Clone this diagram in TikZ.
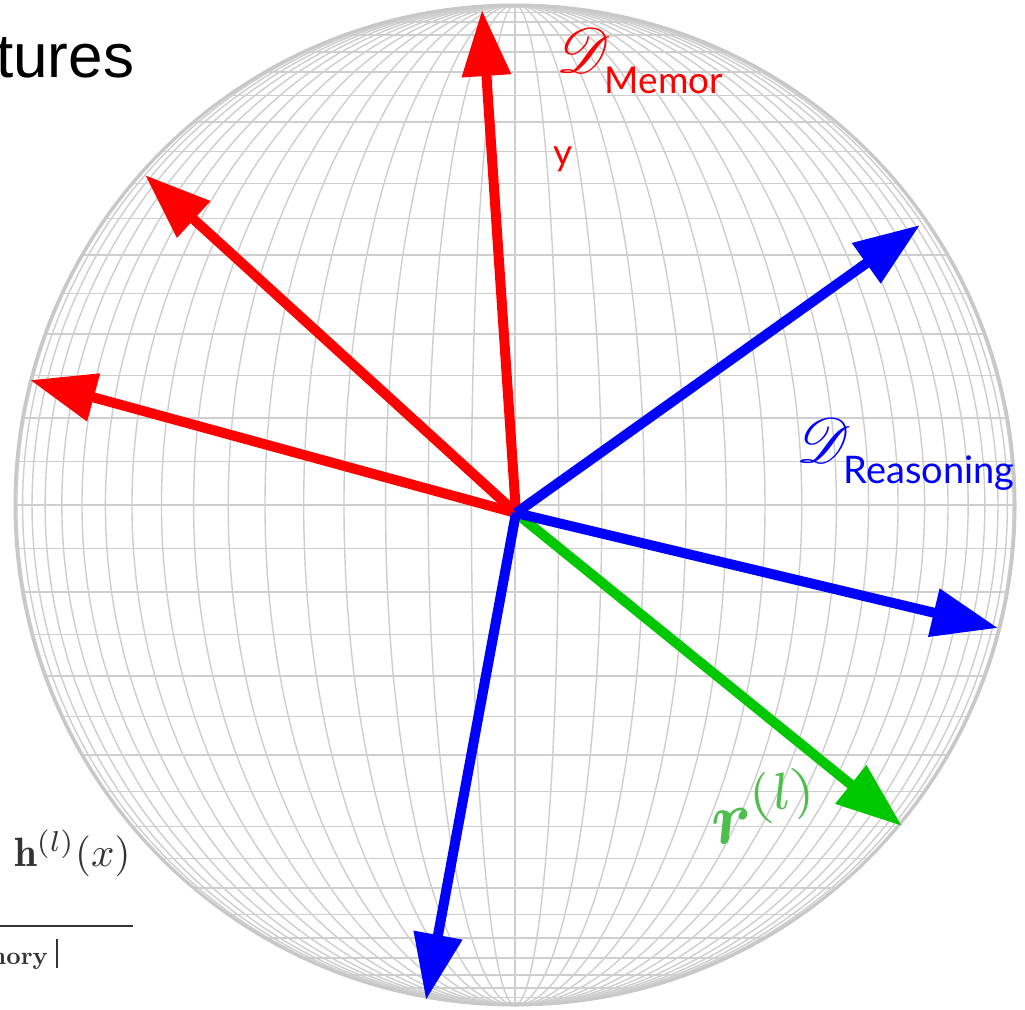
\documentclass[tikz,border=0pt]{standalone}
\usepackage{amsmath}
\usepackage{mathrsfs}
\usepackage{graphicx}
\usepackage{fontspec}
\newfontfamily\latofont{Lato}
\newfontfamily\arialfont{Liberation Sans}
\usetikzlibrary{arrows.meta}
\newcommand{\Radius}{500}
\newcommand{\CenX}{515}
\newcommand{\CenY}{505}
\newcommand{\Shaft}{10pt}
\newcommand{\Step}{5}
\definecolor{memred}{HTML}{FF0000}
\definecolor{reasonblue}{HTML}{0000FF}
\definecolor{residgreen}{HTML}{00C800}
\definecolor{residlabel}{HTML}{4CBF4C}
\definecolor{gridgray}{HTML}{CECECE}
\definecolor{rimgray}{HTML}{C8C8C8}
\definecolor{paperink}{HTML}{333333}

\begin{document}
\begin{tikzpicture}[x=1pt,y=-1pt, line join=round,
  gridline/.style={gridgray,line width=1.4pt},
  gridrim/.style={rimgray,line width=3pt},
  vec/.style={line width=\Shaft,-{Triangle[length=66pt,width=47pt]}}]

  \useasboundingbox (0,0) rectangle (1025,1009);
  \fill[white] (0,0) rectangle (1025,1009);

  % ---- sphere, seen side on ----------------------------------------------
  \coordinate (C) at (\CenX,\CenY);
  \foreach \a in {\Step,10,...,85} {
    \pgfmathsetmacro\dy{\Radius*sin(\a)}
    \pgfmathsetmacro\dx{\Radius*cos(\a)}
    % a pair of meridians is one ellipse
    \draw[gridline] (C) ellipse [x radius=\dy, y radius=\Radius];
    \draw[gridline] (\CenX-\dx,\CenY-\dy) -- (\CenX+\dx,\CenY-\dy);
    \draw[gridline] (\CenX-\dx,\CenY+\dy) -- (\CenX+\dx,\CenY+\dy);
  }
  \draw[gridline] (\CenX,\CenY-\Radius) -- (\CenX,\CenY+\Radius);
  \draw[gridline] (\CenX-\Radius,\CenY) -- (\CenX+\Radius,\CenY);
  \draw[gridrim] (C) circle (\Radius);

  % ---- directions ---------------------------------------------------------
  \coordinate (O) at (516,513);
  \coordinate (memA) at (482,10);
  \coordinate (memB) at (145,175);
  \coordinate (memC) at (30,380);
  \coordinate (reaA) at (920,225);
  \coordinate (reaB) at (998,628);
  \coordinate (reaC) at (426,1000);
  \coordinate (resid) at (902,826);

  \foreach \t in {memA,memB,memC} {
    \draw[vec,memred] (O) -- (\t);
  }
  \draw[vec,residgreen] (O) -- (resid);
  \foreach \t in {reaA,reaB,reaC} {
    \draw[vec,reasonblue] (O) -- (\t);
  }

  % ---- labels -------------------------------------------------------------
  \node[anchor=base west,inner sep=0,memred] (memlabel) at (556,72)
    {\scalebox{6.3}{$\mathscr{D}$}\kern-6pt\raisebox{-21pt}{\latofont\fontsize{37}{37}\selectfont Memor}};
  \node[anchor=base west,inner sep=0,memred] (ylabel) at (553,165)
    {\latofont\fontsize{37}{37}\selectfont y};
  \node[anchor=base west,inner sep=0,reasonblue] (realabel) at (796,462)
    {\scalebox{6.3}{$\mathscr{D}$}\kern-7pt\raisebox{-21pt}{\latofont\fontsize{38}{38}\selectfont Reasoning}};
  \node[anchor=base west,inner sep=0,residlabel,rotate=8] (residtext) at (714,846)
    {\scalebox{7.4}{$\boldsymbol{r}^{(l)}$}};

  % ---- bits of the page around the figure --------------------------------
  \node[anchor=base west,inner sep=0] (title) at (-4,77)
    {\arialfont\fontsize{62}{62}\selectfont tures};
  \node[anchor=base west,inner sep=0,paperink] (hidden) at (14,866)
    {\scalebox{4.1}{$\mathbf{h}^{(l)}(x)$}};
  \coordinate (barL) at (0,926);
  \coordinate (barR) at (133,926);
  \draw[paperink,line width=1.6pt] (barL) -- (barR);
  \node[anchor=base east,inner sep=0,paperink] (normtext) at (48,964)
    {\scalebox{2.5}{\bfseries nory}};
  \coordinate (normT) at (57,939);
  \coordinate (normB) at (57,968);
  \draw[paperink,line width=1.6pt] (normT) -- (normB);

\end{tikzpicture}
\end{document}
